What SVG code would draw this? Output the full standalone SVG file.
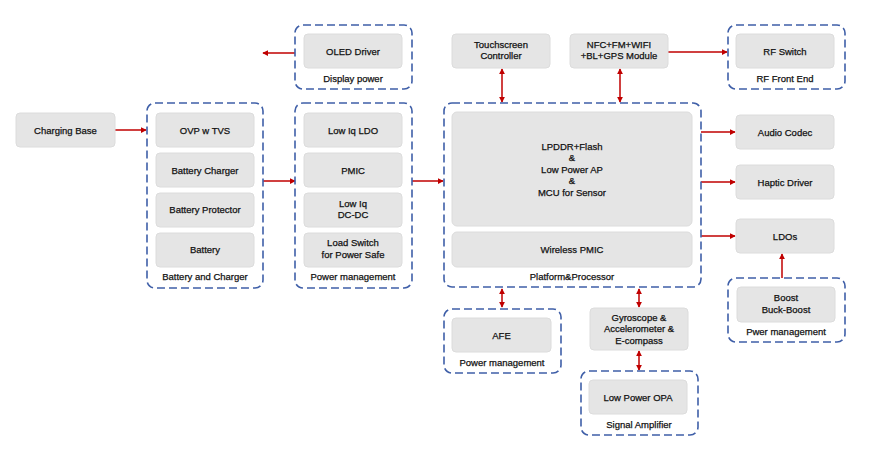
<svg xmlns="http://www.w3.org/2000/svg" width="884" height="464" viewBox="0 0 884 464">
<defs>
<style>
text{font-family:"Liberation Sans",Arial,sans-serif;font-size:9.5px;fill:#111;stroke:#111;stroke-width:0.25;text-anchor:middle}
.b{fill:#e5e5e5;stroke:#dcdcdc;stroke-width:1}
.g{fill:none;stroke:#3f5fa8;stroke-width:1.6;stroke-dasharray:8,4}
.c{stroke:#c00000;stroke-width:1.5;fill:none}
</style>
<marker id="ah" viewBox="0 0 8 8" refX="7" refY="4" markerWidth="6" markerHeight="6" markerUnits="userSpaceOnUse" orient="auto-start-reverse"><path d="M0,0 L8,4 L0,8 Z" fill="#c00000"/></marker>
</defs>
<rect width="884" height="464" fill="#fff"/>

<g id="connectors">
<line class="c" x1="295" y1="53" x2="263" y2="53" marker-end="url(#ah)"/>
<line class="c" x1="115" y1="130" x2="146" y2="130" marker-end="url(#ah)"/>
<line class="c" x1="263" y1="181" x2="295" y2="181" marker-end="url(#ah)"/>
<line class="c" x1="412" y1="181" x2="443" y2="181" marker-end="url(#ah)"/>
<line class="c" x1="502" y1="69" x2="502" y2="102" marker-start="url(#ah)" marker-end="url(#ah)"/>
<line class="c" x1="620" y1="69" x2="620" y2="102" marker-start="url(#ah)" marker-end="url(#ah)"/>
<line class="c" x1="668" y1="52" x2="727" y2="52" marker-end="url(#ah)"/>
<line class="c" x1="701" y1="132" x2="735" y2="132" marker-end="url(#ah)"/>
<line class="c" x1="701" y1="182" x2="735" y2="182" marker-end="url(#ah)"/>
<line class="c" x1="701" y1="236" x2="735" y2="236" marker-end="url(#ah)"/>
<line class="c" x1="782" y1="278" x2="782" y2="254" marker-end="url(#ah)"/>
<line class="c" x1="502" y1="289" x2="502" y2="307" marker-start="url(#ah)" marker-end="url(#ah)"/>
<line class="c" x1="639" y1="289" x2="639" y2="307" marker-start="url(#ah)" marker-end="url(#ah)"/>
<line class="c" x1="639" y1="351" x2="639" y2="370" marker-start="url(#ah)" marker-end="url(#ah)"/>
</g>

<g id="display-power">
<rect class="g" x="295" y="25" width="117" height="64" rx="8"/>
<rect class="b" x="304" y="34" width="98" height="34" rx="4"/>
<text x="353" y="54.5">OLED Driver</text>
<text x="353" y="81.5">Display power</text>
</g>

<g id="charging-base">
<rect class="b" x="16" y="113" width="99" height="34" rx="4"/>
<text x="65.5" y="133.5">Charging Base</text>
</g>

<g id="battery-and-charger">
<rect class="g" x="147" y="103" width="116" height="185" rx="8"/>
<rect class="b" x="156" y="113" width="98" height="34" rx="4"/>
<text x="205" y="133.5">OVP w TVS</text>
<rect class="b" x="156" y="153" width="98" height="34" rx="4"/>
<text x="205" y="173.5">Battery Charger</text>
<rect class="b" x="156" y="193" width="98" height="34" rx="4"/>
<text x="205" y="212.5">Battery Protector</text>
<rect class="b" x="156" y="233" width="98" height="34" rx="4"/>
<text x="205" y="252.5">Battery</text>
<text x="205" y="279.5">Battery and Charger</text>
</g>

<g id="power-management">
<rect class="g" x="295" y="103" width="117" height="185" rx="8"/>
<rect class="b" x="304" y="113" width="98" height="34" rx="4"/>
<text x="353" y="133.5">Low Iq LDO</text>
<rect class="b" x="304" y="153" width="98" height="34" rx="4"/>
<text x="353" y="173.5">PMIC</text>
<rect class="b" x="304" y="193" width="98" height="34" rx="4"/>
<text x="353" y="206.5">Low Iq</text>
<text x="353" y="217.5">DC-DC</text>
<rect class="b" x="304" y="233" width="98" height="34" rx="4"/>
<text x="353" y="245.5">Load Switch</text>
<text x="353" y="257.5">for Power Safe</text>
<text x="353" y="279.5">Power management</text>
</g>

<g id="touchscreen">
<rect class="b" x="452" y="34" width="98" height="34" rx="4"/>
<text x="501" y="47.5">Touchscreen</text>
<text x="501" y="58.5">Controller</text>
</g>

<g id="nfc-module">
<rect class="b" x="570" y="34" width="98" height="34" rx="4"/>
<text x="619" y="47.5">NFC+FM+WIFI</text>
<text x="619" y="58.5">+BL+GPS Module</text>
</g>

<g id="rf-front-end">
<rect class="g" x="728" y="25" width="117" height="64" rx="8"/>
<rect class="b" x="736" y="34" width="98" height="34" rx="4"/>
<text x="785" y="54.5">RF Switch</text>
<text x="785" y="81.5">RF Front End</text>
</g>

<g id="platform-processor">
<rect class="g" x="444" y="103" width="257" height="184" rx="8"/>
<rect class="b" x="452" y="112" width="240" height="114" rx="5"/>
<text x="572" y="149.5">LPDDR+Flash</text>
<text x="572" y="161">&amp;</text>
<text x="572" y="172.5">Low Power AP</text>
<text x="572" y="184">&amp;</text>
<text x="572" y="195.5">MCU for Sensor</text>
<rect class="b" x="452" y="232" width="240" height="35" rx="5"/>
<text x="572" y="252.5">Wireless PMIC</text>
<text x="572" y="279.5">Platform&amp;Processor</text>
</g>

<g id="audio-codec">
<rect class="b" x="736" y="115" width="98" height="34" rx="4"/>
<text x="785" y="135.5">Audio Codec</text>
</g>

<g id="haptic-driver">
<rect class="b" x="736" y="165" width="98" height="34" rx="4"/>
<text x="785" y="185.5">Haptic Driver</text>
</g>

<g id="ldos">
<rect class="b" x="736" y="219" width="98" height="34" rx="4"/>
<text x="785" y="239.5">LDOs</text>
</g>

<g id="pwer-management">
<rect class="g" x="728" y="278" width="117" height="64" rx="8"/>
<rect class="b" x="737" y="287" width="98" height="35" rx="4"/>
<text x="786" y="300.5">Boost</text>
<text x="786" y="312.5">Buck-Boost</text>
<text x="786" y="334.5">Pwer management</text>
</g>

<g id="afe">
<rect class="g" x="444" y="309" width="117" height="64" rx="8"/>
<rect class="b" x="452" y="318" width="99" height="34" rx="4"/>
<text x="501.5" y="338.5">AFE</text>
<text x="502" y="365.5">Power management</text>
</g>

<g id="gyroscope">
<rect class="b" x="590" y="308" width="98" height="42" rx="4"/>
<text x="639" y="320.5">Gyroscope &amp;</text>
<text x="639" y="331.5">Accelerometer &amp;</text>
<text x="639" y="343.5">E-compass</text>
</g>

<g id="signal-amplifier">
<rect class="g" x="581" y="371" width="117" height="64" rx="8"/>
<rect class="b" x="589" y="380" width="98" height="34" rx="4"/>
<text x="638" y="400.5">Low Power OPA</text>
<text x="639" y="427.5">Signal Amplifier</text>
</g>
</svg>
